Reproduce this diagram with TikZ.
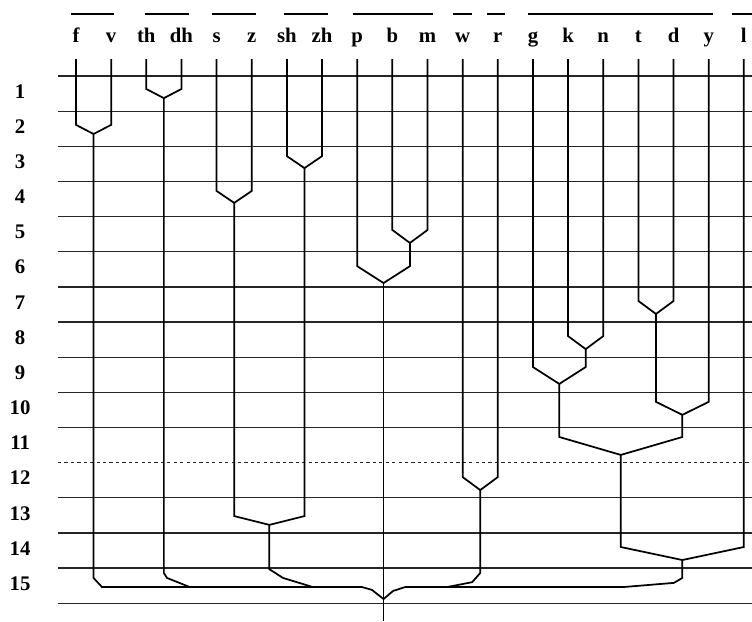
\documentclass[tikz,border=0pt]{standalone}
\usepackage{fontspec}
\setmainfont{Liberation Serif}
\usetikzlibrary{calc}
\newcommand{\joinpair}[5]{%
  \coordinate (#3-mid) at ($(#1)!0.5!(#2)$);
  \coordinate (#3) at (#3-mid |- 0,#5);
  \draw[branch] (#1) -- (#1 |- 0,#4) -- (#3) -- (#2 |- 0,#4) -- (#2);}

\begin{document}
\begin{tikzpicture}[
  x=0.5cm,y=-0.5cm,
  rule/.style={draw=black!85, line width=0.5pt},
  branch/.style={draw=black, line width=0.7pt, line join=miter},
  bar/.style={draw=black, line width=0.8pt},
  phone/.style={font=\fontsize{8.4}{10}\selectfont\bfseries, inner sep=0pt, anchor=base},
  rownum/.style={font=\fontsize{8.4}{10}\selectfont\bfseries, inner sep=0pt, anchor=center}]
\useasboundingbox (-2.162,-2.162) rectangle (19.232,15.505);
% level rules
\foreach \j in {0,1,2,3,4,5,6,7,8,9,10,12,13,14,15}
  \draw[rule] (-0.51,\j) -- (19.232,\j);
\draw[rule, dash pattern=on 1.3pt off 1.3pt] (-0.51,11) -- (19.232,11);
\foreach \k in {1,...,15}
  \node[rownum] (R\k) at (-1.59,\k-0.56) {\k};
% phones and groups
\foreach \lab [count=\i from 0] in {f,v,th,dh,s,z,sh,zh,p,b,m,w,r,g,k,n,t,d,y,l} {
  \node[phone] (L-\lab) at (\i,-0.95) {\lab};
  \coordinate (\lab) at (\i,-0.48);
}
\foreach \a/\b in {-0.14/1.08,1.96/3.21,3.87/5.12,5.92/7.17,7.88/10.16,10.73/11.27,11.69/12.20,12.86/18.12,18.66/19.4}
  \draw[bar] (\a,-1.76) -- (\b,-1.76);
% merges
\joinpair{th}{dh}{thdh}{0.37}{0.63}
\joinpair{f}{v}{fv}{1.39}{1.65}
\joinpair{sh}{zh}{shzh}{2.28}{2.62}
\joinpair{s}{z}{sz}{3.27}{3.61}
\joinpair{b}{m}{bm}{4.38}{4.75}
\joinpair{p}{bm}{pbm}{5.41}{5.89}
\joinpair{t}{d}{td}{6.40}{6.77}
\joinpair{k}{n}{kn}{7.40}{7.77}
\joinpair{g}{kn}{gkn}{8.28}{8.76}
\joinpair{td}{y}{tdy}{9.27}{9.64}
\joinpair{gkn}{tdy}{gkntdy}{10.27}{10.78}
\joinpair{w}{r}{wr}{11.41}{11.78}
\joinpair{sz}{shzh}{szsh}{12.52}{12.77}
\joinpair{gkntdy}{l}{tail}{13.40}{13.77}
% last level
\coordinate (root) at (8.75,14.88);
\coordinate (bottom) at (8.75,15.505);
\coordinate (busL) at (0.74,14.54);
\coordinate (busR) at (15.56,14.54);
\draw[branch] (pbm) -- (bottom);
\draw[branch] (fv) -- (fv |- 0,14.28) -- (busL) -- (8.14,14.54) -- (8.42,14.62) -- (root)
  -- (9.02,14.65) -- (9.36,14.54) -- (busR) -- (17.01,14.42) -- (tail |- 0,14.28) -- (tail);
\draw[branch] (thdh) -- (thdh |- 0,14.14) -- (2.59,14.28) -- (3.24,14.54);
\draw[branch] (szsh) -- (szsh |- 0,14.03) -- (5.89,14.28) -- (6.74,14.54);
\draw[branch] (wr) -- (wr |- 0,14.14) -- (11.27,14.40) -- (10.55,14.54);
\end{tikzpicture}
\end{document}
